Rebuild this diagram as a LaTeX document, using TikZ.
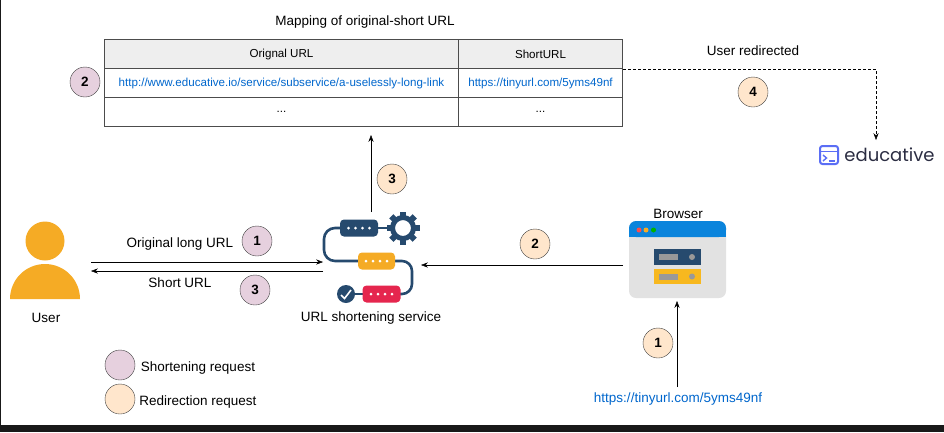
\documentclass[tikz,border=0pt]{standalone}
\usepackage{fontspec}
\setmainfont{Liberation Sans}
\newfontfamily\logofont{Poppins}
\usetikzlibrary{arrows.meta}
\definecolor{shortening}{HTML}{E6D0DE}
\definecolor{redirection}{HTML}{FFE6CC}
\definecolor{linkblue}{HTML}{0066CC}
\definecolor{headgrey}{HTML}{EEEEEE}
\definecolor{wire}{HTML}{264A6E}
\definecolor{amber}{HTML}{F5AB25}
\definecolor{crimson}{HTML}{E5264E}
\definecolor{pane}{HTML}{E2E2E2}
\definecolor{chrome}{HTML}{0A84DC}
\definecolor{indigo}{HTML}{5B6EF5}
\definecolor{ink}{HTML}{2B2D42}

\begin{document}
\begin{tikzpicture}[x=1pt,y=-1pt,font=\fontsize{13.5}{16}\selectfont]
	\tikzstyle{cell}=[draw=black!70,thick,minimum height=29pt,inner sep=0pt,font=\fontsize{11.6}{14}\selectfont]
	\tikzstyle{head}=[cell,fill=headgrey]
	\tikzstyle{badge}=[circle,draw=black!75,minimum size=30pt,inner sep=0pt,font=\bfseries\fontsize{13.5}{16}\selectfont]
	\tikzstyle{shortbadge}=[badge,fill=shortening]
	\tikzstyle{redirectbadge}=[badge,fill=redirection]
	\tikzstyle{flow}=[thin,black,-{Stealth[length=2.4mm]}]
	\tikzstyle{redirect}=[flow,densely dashed]
	\tikzstyle{pill}=[rounded corners=4pt,minimum height=17pt,inner sep=0pt]
	\tikzstyle{dot}=[circle,fill=white,inner sep=0pt,minimum size=3pt]
	\tikzstyle{pipe}=[wire,line width=2.6pt]
	\useasboundingbox (0,0) rectangle (944,432);
	% window edge
	\fill [black!90] (0,425) rectangle (944,432);
	\fill [black!90] (0,0) rectangle (1,425);
	% table
	\node (mapping) at (365,22) {Mapping of original-short URL};
	\node (orighead) at (281.5,54) [head,minimum width=354pt] {Orignal URL};
	\node (shorthead) at (540.5,54) [head,minimum width=164pt] {ShortURL};
	\node (origlink) at (281.5,83) [cell,minimum width=354pt,text=linkblue] {http://www.educative.io/service/subservice/a-uselessly-long-link};
	\node (shortlink) at (540.5,83) [cell,minimum width=164pt,text=linkblue] {https://tinyurl.com/5yms49nf};
	\node (origdots) at (281.5,112) [cell,minimum width=354pt] {...};
	\node (shortdots) at (540.5,112) [cell,minimum width=164pt] {...};
	% user
	\fill [amber] (45,241) circle (19.5);
	\fill [amber] (10,299) arc [start angle=180,end angle=360,x radius=35,y radius=35] -- cycle;
	\node (user) at (46,318) {User};
	% service icon
	\draw [pipe,rounded corners=11pt] (340,228) -- (324,228) -- (324,261) -- (358,261);
	\draw [pipe,rounded corners=10pt] (395,261) -- (412,261) -- (412,294) -- (400,294);
	\draw [pipe] (378,228) -- (392,228);
	\draw [pipe] (346,294) -- (364,294);
	\node (bluepill) at (359,228) [pill,fill=wire,minimum width=38pt] {};
	\node (yellowpill) at (376.5,261) [pill,fill=amber,minimum width=37pt] {};
	\node (redpill) at (381.5,294) [pill,fill=crimson,minimum width=38pt] {};
	\foreach \p/\y/\x in {bluepill/228/359,yellowpill/261/376.5,redpill/294/381.5}
		\foreach \d in {-10.5,-3.5,3.5,10.5}
			\node at (\x+\d,\y) [dot] {};
	\foreach \a in {0,45,...,315}
		\fill [wire,rotate around={\a:(403,228)}] (400,211.5) rectangle (406,218);
	\draw [wire,line width=5pt] (403,228) circle (10.5);
	\node (check) at (346,294) [circle,fill=wire,minimum size=18pt,inner sep=0pt] {};
	\draw [white,line width=1.6pt] (341,295) -- (344.5,298.5) -- (351,290);
	\node (service) at (371,318) {URL shortening service};
	% browser
	\fill [pane,rounded corners=7pt] (629,221) rectangle (726,298);
	\fill [chrome,rounded corners=7pt] (629,237) -- (629,221) -- (726,221) -- (726,237) -- cycle;
	\fill [chrome] (629,230) rectangle (726,237);
	\fill [red!70!white] (639,230) circle (2.5);
	\fill [amber] (646,230) circle (2.5);
	\fill [green!70!black] (653.5,230) circle (2.5);
	\fill [wire] (654,249) rectangle (701,265);
	\fill [amber!85!yellow] (654,269) rectangle (701,284);
	\foreach \y in {257,276.5} {
		\fill [black!40] (659,\y-3) rectangle (678,\y+3);
		\fill [black!40] (692,\y) circle (3);
	}
	\node (browser) at (678,214) {Browser};
	% logo
	\draw [indigo,line width=2pt,rounded corners=2.5pt] (820,146) rectangle (838,164);
	\draw [indigo,line width=1.2pt] (820,151.5) -- (838,151.5);
	\draw [indigo,line width=1.4pt] (823,155) -- (826.5,158) -- (823,161);
	\draw [indigo,line width=1.4pt] (829,161) -- (835,161);
	\node (educative) at (889.5,155) [text=ink,font=\logofont\fontsize{18}{20}\selectfont] {educative};
	% connector ends
	\coordinate (userin) at (91,262);
	\coordinate (serviceleft) at (323,262);
	\coordinate (serviceback) at (323,271);
	\coordinate (userback) at (91,271);
	\coordinate (serviceright) at (421,265);
	\coordinate (browserleft) at (623,265);
	\coordinate (servicetop) at (371,212);
	\coordinate (tablebottom) at (371,135);
	\coordinate (browserbottom) at (677,301);
	\coordinate (linktop) at (677,387);
	\coordinate (tableright) at (623,69);
	\coordinate (corner) at (876,69);
	\coordinate (logotop) at (876,140);
	\draw [flow] (userin) -- (serviceleft);
	\draw [flow] (serviceback) -- (userback);
	\draw [flow] (browserleft) -- (serviceright);
	\draw [flow] (servicetop) -- (tablebottom);
	\draw [flow] (linktop) -- (browserbottom);
	\draw [redirect] (tableright) -- (corner) -- (logotop);
	% labels
	\node (longlabel) at (180,244) {Original long URL};
	\node (shortlabel) at (180,283) {Short URL};
	\node (redirected) at (753,51) {User redirected};
	\node (tinyurl) at (678,399) [text=linkblue] {https://tinyurl.com/5yms49nf};
	% step numbers
	\node (stepa) at (85,82) [shortbadge] {2};
	\node (stepb) at (257,241) [shortbadge] {1};
	\node (stepc) at (255,290) [shortbadge] {3};
	\node (stepd) at (535,244) [redirectbadge] {2};
	\node (stepe) at (392,179) [redirectbadge] {3};
	\node (stepf) at (753,92) [redirectbadge] {4};
	\node (stepg) at (658,343) [redirectbadge] {1};
	% legend
	\node (legenda) at (120,365) [shortbadge] {};
	\node (legendb) at (120,399) [redirectbadge] {};
	\node (legendatext) at (198,368) {Shortening request};
	\node (legendbtext) at (198,402) {Redirection request};
\end{tikzpicture}
\end{document}
